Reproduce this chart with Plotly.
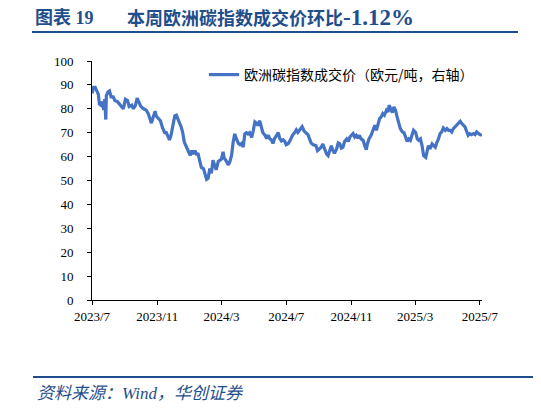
"""
图表19：本周欧洲碳指数成交价环比 -1.12%
"""

import plotly.graph_objects as go

# 数据
datas = [
    "2023-07-01", "2023-07-04", "2023-07-07", "2023-07-10", "2023-07-13", "2023-07-15",
    "2023-07-18", "2023-07-21", "2023-07-23", "2023-07-25", "2023-07-27", "2023-07-28",
    "2023-07-31", "2023-08-03", "2023-08-06", "2023-08-10", "2023-08-13", "2023-08-18",
    "2023-08-23", "2023-08-26", "2023-08-29", "2023-09-02", "2023-09-06", "2023-09-09",
    "2023-09-14", "2023-09-17", "2023-09-21", "2023-09-24", "2023-09-27", "2023-10-01",
    "2023-10-06", "2023-10-11", "2023-10-15", "2023-10-18", "2023-10-21", "2023-10-25",
    "2023-10-28", "2023-10-30", "2023-11-03", "2023-11-07", "2023-11-11", "2023-11-15",
    "2023-11-18", "2023-11-21", "2023-11-24", "2023-11-27", "2023-12-01", "2023-12-04",
    "2023-12-07", "2023-12-10", "2023-12-13", "2023-12-16", "2023-12-19", "2023-12-22",
    "2023-12-26", "2023-12-29", "2024-01-02", "2024-01-05", "2024-01-08", "2024-01-11",
    "2024-01-14", "2024-01-17", "2024-01-20", "2024-01-23", "2024-01-27", "2024-01-30",
    "2024-02-02", "2024-02-05", "2024-02-08", "2024-02-11", "2024-02-14", "2024-02-17",
    "2024-02-20", "2024-02-24", "2024-02-27", "2024-03-01", "2024-03-04", "2024-03-06",
    "2024-03-09", "2024-03-14", "2024-03-17", "2024-03-20", "2024-03-23", "2024-03-26",
    "2024-03-29", "2024-04-02", "2024-04-05", "2024-04-08", "2024-04-11", "2024-04-14",
    "2024-04-17", "2024-04-20", "2024-04-23", "2024-04-27", "2024-04-30", "2024-05-03",
    "2024-05-06", "2024-05-09", "2024-05-12", "2024-05-15", "2024-05-18", "2024-05-22",
    "2024-05-25", "2024-05-28", "2024-05-31", "2024-06-03", "2024-06-06", "2024-06-09",
    "2024-06-13", "2024-06-16", "2024-06-19", "2024-06-22", "2024-06-25", "2024-06-28",
    "2024-07-01", "2024-07-05", "2024-07-09", "2024-07-13", "2024-07-17", "2024-07-20",
    "2024-07-23", "2024-07-28", "2024-07-31", "2024-08-04", "2024-08-08", "2024-08-11",
    "2024-08-14", "2024-08-17", "2024-08-21", "2024-08-26", "2024-08-29", "2024-09-01",
    "2024-09-05", "2024-09-08", "2024-09-12", "2024-09-15", "2024-09-18", "2024-09-21",
    "2024-09-24", "2024-09-27", "2024-09-30", "2024-10-04", "2024-10-07", "2024-10-10",
    "2024-10-13", "2024-10-16", "2024-10-19", "2024-10-23", "2024-10-26", "2024-10-29",
    "2024-11-01", "2024-11-04", "2024-11-07", "2024-11-10", "2024-11-13", "2024-11-16",
    "2024-11-19", "2024-11-23", "2024-11-26", "2024-11-29", "2024-12-01", "2024-12-04",
    "2024-12-08", "2024-12-11", "2024-12-15", "2024-12-18", "2024-12-21", "2024-12-24",
    "2024-12-27", "2024-12-30", "2025-01-02", "2025-01-06", "2025-01-09", "2025-01-11",
    "2025-01-14", "2025-01-17", "2025-01-20", "2025-01-23", "2025-01-26", "2025-01-29",
    "2025-02-01", "2025-02-05", "2025-02-08", "2025-02-11", "2025-02-14", "2025-02-17",
    "2025-02-20", "2025-02-23", "2025-02-26", "2025-03-02", "2025-03-05", "2025-03-08",
    "2025-03-11", "2025-03-14", "2025-03-17", "2025-03-21", "2025-03-23", "2025-03-26",
    "2025-03-29", "2025-04-02", "2025-04-05", "2025-04-08", "2025-04-11", "2025-04-14",
    "2025-04-17", "2025-04-20", "2025-04-23", "2025-04-27", "2025-04-30", "2025-05-03",
    "2025-05-06", "2025-05-09", "2025-05-12", "2025-05-15", "2025-05-18", "2025-05-22",
    "2025-05-25", "2025-05-28", "2025-05-31", "2025-06-03", "2025-06-06", "2025-06-09",
    "2025-06-12", "2025-06-15", "2025-06-19", "2025-06-22", "2025-06-25", "2025-06-28",
    "2025-07-01", "2025-07-05",
]

precos = [
    86.5, 89.0, 89.0, 87.0, 86.0, 82.0,
    81.5, 83.0, 79.5, 84.0, 75.5, 85.5,
    87.0, 87.5, 85.0, 85.0, 83.5, 83.0,
    81.5, 81.0, 80.0, 84.0, 83.5, 81.0,
    81.5, 80.0, 81.5, 84.5, 83.0, 81.0,
    80.0, 79.5, 78.0, 76.0, 74.0, 77.0,
    79.0, 77.0, 76.0, 75.0, 72.0, 70.0,
    70.0, 68.5, 67.0, 69.0, 74.0, 77.0,
    77.3, 76.0, 74.0, 72.5, 70.0, 66.0,
    64.0, 62.5, 60.5, 62.5, 61.0, 62.5,
    61.0, 61.0, 58.0, 55.5, 55.0, 53.0,
    50.5, 51.0, 55.0, 53.0, 58.5, 56.5,
    54.5, 58.0, 58.5, 59.0, 62.0, 59.5,
    58.5, 56.5, 58.0, 60.5, 66.0, 69.5,
    67.5, 65.5, 65.0, 65.5, 64.0, 69.5,
    70.0, 69.5, 70.0, 68.0, 71.0, 74.5,
    74.0, 73.0, 75.0, 72.5, 70.0, 69.0,
    67.5, 69.0, 67.5, 67.0, 65.5, 67.5,
    69.0, 70.0, 67.5, 66.5, 67.0, 66.5,
    65.0, 65.5, 67.0, 69.0, 70.1, 71.2,
    70.1, 71.5, 72.5, 70.6, 69.6, 69.2,
    67.4, 65.7, 64.9, 64.6, 62.5, 63.2,
    63.9, 65.3, 63.2, 61.1, 60.4, 63.2,
    64.6, 62.5, 61.4, 63.2, 65.7, 65.3,
    63.5, 63.9, 66.3, 67.4, 66.3, 68.2,
    68.9, 69.6, 68.2, 68.9, 67.7, 68.9,
    67.4, 66.8, 64.6, 62.9, 65.3, 67.4,
    68.9, 71.0, 73.1, 71.0, 73.8, 75.9,
    76.6, 78.0, 77.3, 79.4, 78.7, 81.5,
    80.1, 78.4, 80.8, 79.4, 76.6, 73.8,
    71.7, 70.3, 70.0, 68.2, 66.3, 67.4,
    66.8, 68.9, 71.0, 70.1, 67.4, 66.8,
    67.4, 64.6, 60.4, 59.7, 61.8, 64.6,
    63.2, 65.3, 64.6, 63.9, 66.0, 67.4,
    69.6, 70.3, 72.0, 71.0, 71.7, 71.0,
    71.0, 70.3, 71.7, 72.4, 73.1, 73.8,
    74.8, 73.8, 72.8, 72.4, 70.6, 68.9,
    69.6, 69.2, 69.6, 69.2, 70.3, 69.6,
    69.2, 68.9,
]

ticks_x = ["2023-07-01", "2023-11-01", "2024-03-01", "2024-07-01",
           "2024-11-01", "2025-03-01", "2025-07-01"]
rotulos_x = ["2023/7", "2023/11", "2024/3", "2024/7", "2024/11", "2025/3", "2025/7"]
ticks_y = [0, 10, 20, 30, 40, 50, 60, 70, 80, 90, 100]

# geometria (px na imagem de referência); a página tem 8px de margem no body
OFF = 8
W, H = 541 - OFF, 409 - OFF
ESQ, DIR, TOPO, BASE = 92, 482, 61, 300
AZUL_ESCURO = "#1f4e8c"


def px_x(p):
    return (p - ESQ) / (DIR - ESQ)


def px_y(p):
    return (BASE - p) / (BASE - TOPO)


fonte_serif = "Liberation Serif, Times New Roman, Noto Sans CJK SC, serif"
fonte_cjk = "Noto Sans CJK SC, Liberation Serif, sans-serif"

fig = go.Figure()
fig.add_trace(go.Scatter(
    x=datas,
    y=precos,
    mode="lines",
    name="欧洲碳指数成交价（欧元/吨，右轴）",
    line=dict(color="#4472C4", width=3.2),
))

fig.update_layout(
    width=W,
    height=H,
    margin=dict(l=ESQ - OFF, r=541 - DIR, t=TOPO - OFF, b=409 - BASE, autoexpand=False),
    paper_bgcolor="white",
    plot_bgcolor="white",
    showlegend=True,
    legend=dict(
        x=px_x(204), y=px_y(75), xanchor="left", yanchor="middle",
        bgcolor="rgba(0,0,0,0)",
        font=dict(family=fonte_cjk, size=14, color="#000000"),
    ),
    xaxis=dict(
        type="date",
        range=["2023-07-01", "2025-07-05"],
        tickvals=ticks_x,
        ticktext=rotulos_x,
        showgrid=False,
        showline=True,
        linecolor="black",
        linewidth=1,
        ticks="outside",
        ticklen=4,
        tickcolor="black",
        tickfont=dict(family=fonte_serif, size=13, color="black"),
        zeroline=False,
    ),
    yaxis=dict(
        range=[0, 100],
        tickvals=ticks_y,
        showgrid=False,
        showline=True,
        linecolor="black",
        linewidth=1,
        ticks="outside",
        ticklen=4,
        tickcolor="black",
        ticklabelstandoff=11,
        tickfont=dict(family=fonte_serif, size=13, color="black"),
        zeroline=False,
    ),
)

# título (em duas partes para reproduzir o espaçamento) e linhas decorativas
fig.add_annotation(
    x=px_x(33), y=px_y(18), xref="paper", yref="paper",
    xanchor="left", yanchor="middle", showarrow=False,
    text="<b>图表 19</b>",
    font=dict(family=fonte_serif, size=18, color=AZUL_ESCURO),
)
fig.add_annotation(
    x=px_x(125), y=px_y(18), xref="paper", yref="paper",
    xanchor="left", yanchor="middle", showarrow=False,
    text="<b>本周欧洲碳指数成交价环比<span style='font-size:23px'>-1.12%</span></b>",
    font=dict(family=fonte_serif, size=18, color=AZUL_ESCURO),
)
fig.add_shape(
    type="line", xref="paper", yref="paper",
    x0=px_x(32), x1=px_x(518), y0=px_y(32), y1=px_y(32),
    line=dict(color=AZUL_ESCURO, width=2),
)
fig.add_shape(
    type="line", xref="paper", yref="paper",
    x0=px_x(33), x1=px_x(541), y0=px_y(377), y1=px_y(377),
    line=dict(color=AZUL_ESCURO, width=2),
)
fig.add_annotation(
    x=px_x(35), y=px_y(393), xref="paper", yref="paper",
    xanchor="left", yanchor="middle", showarrow=False,
    text="<i>资料来源：Wind，华创证券</i>",
    font=dict(family=fonte_serif, size=17, color=AZUL_ESCURO),
)

fig.write_html("out.html")
